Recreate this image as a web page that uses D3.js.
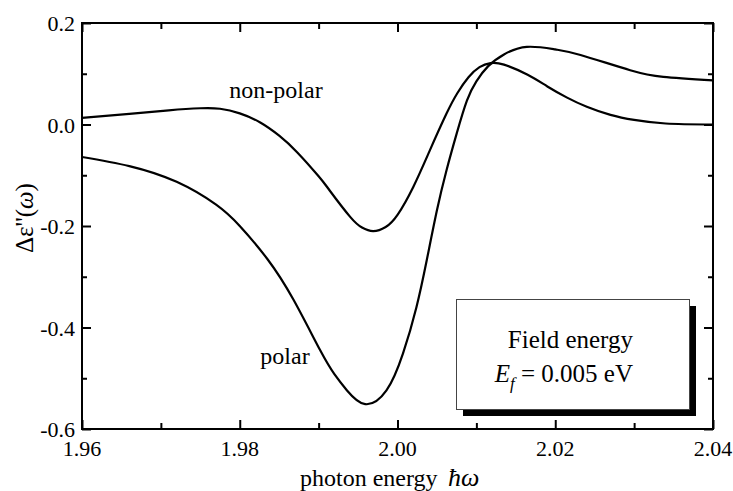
<!DOCTYPE html>
<html><head><meta charset="utf-8">
<script src="https://cdn.jsdelivr.net/npm/d3@7"></script>
<style>body{margin:0;background:#fff}svg{display:block}.serif{font-family:"Liberation Serif",serif}</style>
</head><body><svg id="c" width="733" height="491"></svg>
<script>
const nonPolarX = [1.960,1.966,1.971,1.9750,1.9775,1.9800,1.9826,1.9850,1.9873,1.9900,1.9914,1.9940,1.9955,1.9969,1.9985,2.0000,2.0020,2.0041,2.0062,2.0076,2.0090,2.0104,2.0118,2.0135,2.0165,2.0190,2.0215,2.0240,2.0270,2.0300,2.0340,2.040];
const nonPolarY = [0.013,0.021,0.028,0.032,0.031,0.022,0.004,-0.022,-0.055,-0.102,-0.130,-0.182,-0.203,-0.210,-0.202,-0.178,-0.123,-0.051,0.021,0.062,0.093,0.113,0.121,0.118,0.098,0.075,0.053,0.035,0.019,0.009,0.002,0.000];
const polarX = [1.960,1.966,1.972,1.977,1.9800,1.9835,1.9868,1.9902,1.9920,1.9936,1.9959,1.9986,2.0007,2.0024,2.0037,2.0050,2.0062,2.0075,2.0088,2.0100,2.0115,2.0135,2.0164,2.0200,2.0232,2.0295,2.0337,2.040];
const polarY = [-0.064,-0.082,-0.113,-0.158,-0.200,-0.265,-0.345,-0.445,-0.492,-0.524,-0.551,-0.524,-0.451,-0.360,-0.268,-0.169,-0.091,-0.018,0.047,0.085,0.115,0.138,0.153,0.148,0.137,0.107,0.094,0.087];
const xMajor = [1.96,1.98,2.00,2.02,2.04];
const xMinor = [1.97,1.99,2.01,2.03];
const xTickLabels = ["1.96","1.98","2.00","2.02","2.04"];
const yMajor = [0.2,0.0,-0.2,-0.4,-0.6];
const yMinor = [0.1,-0.1,-0.3,-0.5];
const yTickLabels = ["0.2","0.0","-0.2","-0.4","-0.6"];
const seriesLabels = ["non-polar","polar"];

const svg = d3.select("#c");
const L=82,R=713,T=23,B=429;
const x = d3.scaleLinear().domain([1.96,2.04]).range([L,R]);
const y = d3.scaleLinear().domain([-0.6,0.2]).range([B,T]);

const line = d3.line().x(d=>x(d[0])).y(d=>y(d[1])).curve(d3.curveNatural);
svg.append("clipPath").attr("id","cp").append("rect").attr("x",L).attr("y",T).attr("width",R-L).attr("height",B-T);
const g = svg.append("g").attr("clip-path","url(#cp)");
g.append("path").datum(d3.zip(nonPolarX,nonPolarY)).attr("d",line).attr("fill","none").attr("stroke","#000").attr("stroke-width",2.2);
g.append("path").datum(d3.zip(polarX,polarY)).attr("d",line).attr("fill","none").attr("stroke","#000").attr("stroke-width",2.2);

// axes
function ax(axis, tr, vals, size){
  const a = svg.append("g").attr("transform",tr).call(axis.tickValues(vals).tickSize(size).tickFormat(""));
  a.select(".domain").remove();
  a.selectAll("line").attr("stroke","#000").attr("stroke-width",2);
}
ax(d3.axisTop(x), `translate(0,${B})`, xMajor, 9);
ax(d3.axisTop(x), `translate(0,${B})`, xMinor, 6);
ax(d3.axisBottom(x), `translate(0,${T})`, xMajor, 9);
ax(d3.axisBottom(x), `translate(0,${T})`, xMinor, 6);
ax(d3.axisRight(y), `translate(${L},0)`, yMajor, 9);
ax(d3.axisRight(y), `translate(${L},0)`, yMinor, 5);
ax(d3.axisLeft(y), `translate(${R},0)`, yMajor, 9);
ax(d3.axisLeft(y), `translate(${R},0)`, yMinor, 5);
svg.append("rect").attr("x",L).attr("y",T).attr("width",R-L).attr("height",B-T).attr("fill","none").attr("stroke","#000").attr("stroke-width",2);

const T_ = (sel)=>sel.attr("class","serif").style("font-family","'Liberation Serif', 'DejaVu Serif', serif");
// tick labels
svg.append("g").selectAll("text").data(xMajor).join("text").call(T_)
  .attr("x",d=>x(d)).attr("y",B+27).attr("text-anchor","middle").attr("font-size",22)
  .text((d,i)=>xTickLabels[i]);
svg.append("g").selectAll("text").data(yMajor).join("text").call(T_)
  .attr("x",L-7).attr("y",d=>y(d)+8).attr("text-anchor","end").attr("font-size",22)
  .text((d,i)=>yTickLabels[i]);

// axis titles
const xt = svg.append("text").call(T_).attr("x",300).attr("y",486).attr("font-size",24);
xt.append("tspan").text("photon energy");
xt.append("tspan").attr("x",448).attr("font-style","italic").attr("font-size",26).text("ħω");
const yt = svg.append("text").call(T_).attr("transform","translate(33,218) rotate(-90)").attr("text-anchor","middle").attr("font-size",25);
yt.append("tspan").text("Δε''(");
yt.append("tspan").attr("font-style","italic").text("ω");
yt.append("tspan").text(")");

// series labels
svg.append("text").call(T_).attr("x",276).attr("y",98).attr("text-anchor","middle").attr("font-size",24).text(seriesLabels[0]);
svg.append("text").call(T_).attr("x",285).attr("y",364).attr("text-anchor","middle").attr("font-size",24).text(seriesLabels[1]);

// legend box
svg.append("rect").attr("x",463).attr("y",306).attr("width",233).attr("height",110).attr("fill","#000");
svg.append("rect").attr("x",456.5).attr("y",299.5).attr("width",233).attr("height",110).attr("fill","#fff").attr("stroke","#444").attr("stroke-width",1);
svg.append("text").call(T_).attr("x",633).attr("y",348).attr("text-anchor","end").attr("font-size",25).text("Field energy");
const lt = svg.append("text").call(T_).attr("x",633).attr("y",382).attr("text-anchor","end").attr("font-size",25);
lt.append("tspan").attr("font-style","italic").text("E");
lt.append("tspan").attr("font-style","italic").attr("font-size",17).attr("dy",7).text("f");
lt.append("tspan").attr("dy",-7).text(" = 0.005 eV");
</script></body></html>
